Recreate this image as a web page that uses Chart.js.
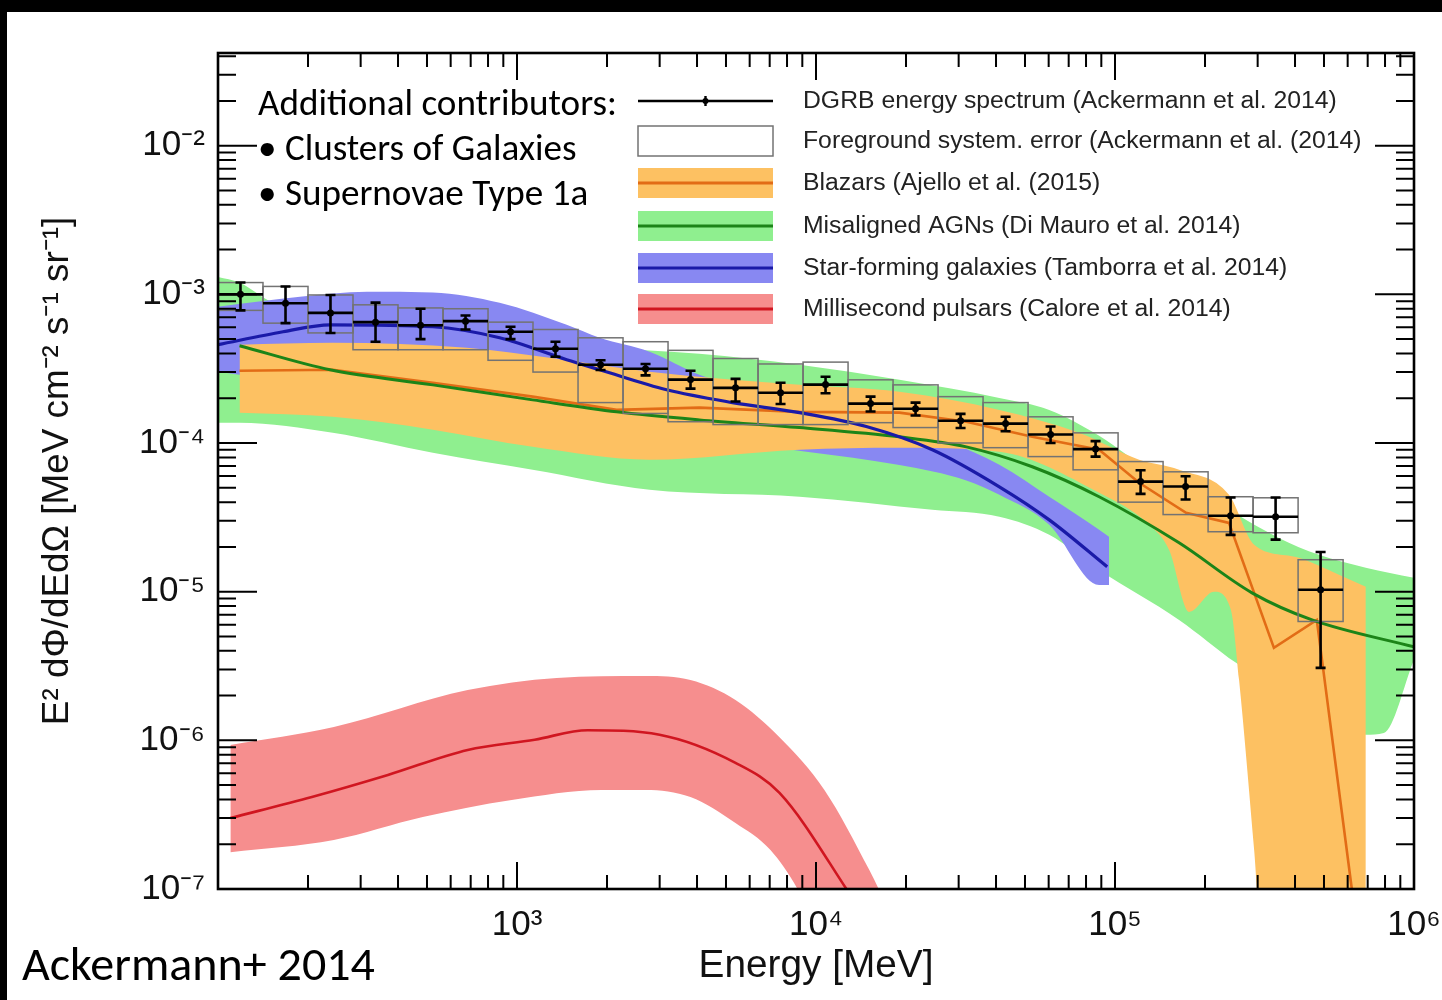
<!DOCTYPE html>
<html lang="en">
<head>
<meta charset="utf-8">
<title>Diffuse gamma-ray background: measured spectrum and source contributions</title>
<script src="https://cdn.jsdelivr.net/npm/chart.js@4.4.1/dist/chart.umd.min.js"></script>
<style>
  html, body { margin: 0; padding: 0; width: 1442px; height: 1000px; background: #000; overflow: hidden; }
  #panel { position: absolute; left: 7px; top: 12px; width: 1435px; height: 988px; background: #fff; }
  #chart { display: block; }
</style>
</head>
<body>
<div id="panel"><canvas id="chart" width="1435" height="988"></canvas></div>
<script>
// ---------------- DGRB energy spectrum (Ackermann et al. 2014) ----------------
// Energy bins in MeV
const binLow    = [100, 141.4, 200, 282.8, 400, 565.7, 800, 1131, 1600, 2263, 3200, 4525, 6400, 9051, 12800, 18102, 25600, 36204, 51200, 72408, 102400, 144815, 204800, 289631, 409600];
const binHigh   = [141.4, 200, 282.8, 400, 565.7, 800, 1131, 1600, 2263, 3200, 4525, 6400, 9051, 12800, 18102, 25600, 36204, 51200, 72408, 102400, 144815, 204800, 289631, 409600, 579262];
const binCenter = [118.9, 168.2, 237.8, 336.4, 475.7, 672.7, 951.4, 1345, 1903, 2691, 3805, 5382, 7611, 10763, 15222, 21527, 30444, 43054, 60887, 86108, 121775, 172215, 243549, 344429, 487099];
// E^2 dPhi/dE dOmega  [MeV cm^-2 s^-1 sr^-1]
const dgrb        = [1.00e-3, 8.7e-4, 7.5e-4, 6.5e-4, 6.2e-4, 6.6e-4, 5.6e-4, 4.3e-4, 3.36e-4, 3.16e-4, 2.67e-4, 2.35e-4, 2.18e-4, 2.47e-4, 1.84e-4, 1.70e-4, 1.41e-4, 1.35e-4, 1.14e-4, 9.1e-5, 5.5e-5, 5.1e-5, 3.24e-5, 3.19e-5, 1.03e-5];
const dgrbErrHigh = [1.20e-3, 1.13e-3, 9.9e-4, 8.8e-4, 8.0e-4, 7.2e-4, 6.05e-4, 4.8e-4, 3.6e-4, 3.4e-4, 3.06e-4, 2.7e-4, 2.54e-4, 2.79e-4, 2.05e-4, 1.87e-4, 1.57e-4, 1.50e-4, 1.29e-4, 1.03e-4, 6.55e-5, 5.98e-5, 4.3e-5, 4.3e-5, 1.85e-5];
const dgrbErrLow  = [7.8e-4, 6.4e-4, 5.5e-4, 4.8e-4, 5.0e-4, 5.8e-4, 5.0e-4, 3.8e-4, 3.1e-4, 2.85e-4, 2.32e-4, 1.9e-4, 1.83e-4, 2.16e-4, 1.63e-4, 1.53e-4, 1.26e-4, 1.20e-4, 1.00e-4, 8.1e-5, 4.55e-5, 4.17e-5, 2.41e-5, 2.24e-5, 3.07e-6];
// Foreground model systematic range per bin
const fgHigh = [1.20e-3, 1.13e-3, 9.9e-4, 8.5e-4, 8.1e-4, 8.0e-4, 6.5e-4, 5.8e-4, 5.1e-4, 4.8e-4, 4.2e-4, 3.7e-4, 3.4e-4, 3.5e-4, 2.66e-4, 2.46e-4, 2.05e-4, 1.87e-4, 1.50e-4, 1.17e-4, 7.5e-5, 6.4e-5, 4.35e-5, 4.28e-5, 1.64e-5];
const fgLow  = [7.8e-4, 6.4e-4, 5.5e-4, 4.24e-4, 4.24e-4, 4.24e-4, 3.6e-4, 3.0e-4, 1.87e-4, 1.58e-4, 1.39e-4, 1.33e-4, 1.33e-4, 1.33e-4, 1.37e-4, 1.27e-4, 1.00e-4, 9.3e-5, 8.1e-5, 6.6e-5, 4.0e-5, 3.3e-5, 2.53e-5, 2.49e-5, 6.3e-6];

// ---------------- Blazars (Ajello et al. 2015) ----------------
const blzUpperE = [118, 242, 679, 1285, 2775, 8810, 19010, 41040, 75880, 120400, 163800, 240500, 292000, 403000, 561000, 690000];
const blzUpper  = [4.58e-4, 4.72e-4, 4.37e-4, 3.74e-4, 3.01e-4, 2.46e-4, 2.21e-4, 1.67e-4, 1.17e-4, 7.71e-5, 6.61e-5, 4.48e-5, 2.07e-5, 1.71e-5, 1.30e-5, 1.08e-5];
const blzLowerE = [118, 242, 523, 1128, 2775, 8810, 19010, 41040, 88490, 130100, 151700, 177000, 214400, 244000, 260000, 292000, 308000, 690000];
const blzLower  = [1.60e-4, 1.50e-4, 1.23e-4, 9.42e-5, 7.71e-5, 9.0e-5, 9.29e-5, 8.73e-5, 4.62e-5, 2.82e-5, 1.91e-5, 7.31e-6, 9.97e-6, 7.55e-6, 2.55e-6, 1.83e-7, 5e-8, 5e-8];
const blzLineE  = [118, 242, 523, 1128, 2153, 4074, 8810, 19010, 31830, 52890, 88490, 120400, 172900, 240500, 340000, 473000, 639000];
const blzLine   = [3.06e-4, 3.11e-4, 2.54e-4, 2.05e-4, 1.67e-4, 1.73e-4, 1.62e-4, 1.60e-4, 1.39e-4, 1.10e-4, 9.0e-5, 5.40e-5, 3.39e-5, 2.90e-5, 4.19e-6, 6.46e-6, 6.2e-8];

// ---------------- Misaligned AGNs (Di Mauro et al. 2014) ----------------
const agnUpperE = [100, 118, 146, 188, 406, 875, 1890, 4074, 8810, 19010, 41040, 60260, 88490, 130100, 191000, 281000, 353000, 481000, 690000, 1000000];
const agnUpper  = [1.31e-3, 1.20e-3, 9.2e-4, 7.29e-4, 5.78e-4, 4.95e-4, 4.37e-4, 3.98e-4, 3.36e-4, 2.66e-4, 2.01e-4, 1.67e-4, 1.12e-4, 6.6e-5, 4.7e-5, 2.95e-5, 2.30e-5, 1.77e-5, 1.45e-5, 1.24e-5];
const agnLowerE = [100, 118, 242, 523, 1128, 2775, 8810, 24500, 41040, 60260, 88490, 163800, 254000, 353000, 561000, 690000, 793000, 1000000];
const agnLower  = [1.37e-4, 1.37e-4, 1.17e-4, 8.59e-5, 6.61e-5, 4.84e-5, 4.35e-5, 3.55e-5, 3.19e-5, 2.41e-5, 1.40e-5, 6.46e-6, 3.32e-6, 2.18e-6, 1.48e-6, 1.09e-6, 1.12e-6, 3.48e-6];
const agnLineE  = [118, 237, 523, 1128, 2153, 4074, 8810, 19010, 31830, 52890, 88490, 163800, 287200, 456000, 1000000];
const agnLine   = [4.51e-4, 3.11e-4, 2.46e-4, 1.95e-4, 1.62e-4, 1.43e-4, 1.27e-4, 1.10e-4, 9.42e-5, 6.92e-5, 4.35e-5, 2.13e-5, 9.82e-6, 6.46e-6, 4.25e-6];

// ---------------- Star-forming galaxies (Tamborra et al. 2014) ----------------
const sfgUpperE = [100, 188, 315, 523, 875, 1466, 1890, 2775, 4074, 5990, 8810, 12940, 19010, 27920, 41040, 60260, 88490, 95500];
const sfgUpper  = [8.26e-4, 9.63e-4, 1.04e-3, 1.03e-3, 8.77e-4, 6.24e-4, 5.10e-4, 4.11e-4, 2.88e-4, 2.28e-4, 1.95e-4, 1.62e-4, 1.33e-4, 1.02e-4, 7.13e-5, 4.35e-5, 2.61e-5, 2.34e-5];
const sfgLowerE = [100, 118, 406, 1890, 9294, 19010, 31830, 41040, 60260, 88490, 95500];
const sfgLower  = [3.01e-4, 2.88e-4, 2.11e-4, 1.33e-4, 8.73e-5, 7.1e-5, 5.6e-5, 4.48e-5, 2.82e-5, 1.11e-5, 1.11e-5];
const sfgLineE  = [100, 165, 237, 523, 875, 1466, 1890, 3164, 5257, 8810, 14730, 24500, 41040, 60260, 94150];
const sfgLine   = [4.58e-4, 5.60e-4, 6.24e-4, 6.05e-4, 5.10e-4, 3.63e-4, 3.11e-4, 2.28e-4, 1.87e-4, 1.60e-4, 1.29e-4, 9.0e-5, 5.07e-5, 3.04e-5, 1.47e-5];

// ---------------- Millisecond pulsars (Calore et al. 2014) ----------------
const mspUpperE = [110, 244, 684, 1358, 2690, 3803, 5379, 7550, 10670, 15080, 16900];
const mspUpper  = [9.31e-7, 1.23e-6, 2.18e-6, 2.63e-6, 2.71e-6, 2.55e-6, 1.87e-6, 1.05e-6, 4.64e-7, 1.34e-7, 8.4e-8];
const mspLowerE = [110, 244, 484, 960, 1918, 2690, 3803, 5379, 7042, 8672, 9510, 12000, 16900];
const mspLower  = [1.77e-7, 2.14e-7, 3.05e-7, 3.97e-7, 4.64e-7, 4.64e-7, 4.16e-7, 2.78e-7, 1.83e-7, 1.0e-7, 6.7e-8, 3e-8, 2e-8];
const mspLineE  = [110, 206, 370, 684, 1146, 1723, 2998, 5379, 7550, 12640, 14000];
const mspLine   = [3.0e-7, 4.16e-7, 5.85e-7, 8.62e-7, 1.01e-6, 1.17e-6, 1.09e-6, 7.05e-7, 4.43e-7, 1.0e-7, 7.2e-8];

// ---------------- Axes ----------------
const xTickValues = [1e3, 1e4, 1e5, 1e6];
const xTickLabels = ['10\u00B3', '10\u2074', '10\u2075', '10\u2076'];
const yTickValues = [1e-7, 1e-6, 1e-5, 1e-4, 1e-3, 1e-2];
const yTickLabels = ['10\u207B\u2077', '10\u207B\u2076', '10\u207B\u2075', '10\u207B\u2074', '10\u207B\u00B3', '10\u207B\u00B2'];
const xTitle = 'Energy [MeV]';
const yTitle = 'E\u00B2 d\u03A6/dEd\u03A9 [MeV cm\u207B\u00B2 s\u207B\u00B9 sr\u207B\u00B9]';

// ---------------- Legend and notes ----------------
const legendLabels = [
  'DGRB energy spectrum (Ackermann et al. 2014)',
  'Foreground system. error (Ackermann et al. (2014)',
  'Blazars (Ajello et al. (2015)',
  'Misaligned AGNs (Di Mauro et al. 2014)',
  'Star-forming galaxies (Tamborra et al. 2014)',
  'Millisecond pulsars (Calore et al. 2014)'
];
const noteLines = ['Additional contributors:', '\u2022 Clusters of Galaxies', '\u2022 Supernovae Type 1a'];
const creditText = 'Ackermann+ 2014';

// ---------------- Styles ----------------
const BLZ_FILL = 'rgb(253, 193, 98)',  BLZ_LINE = 'rgb(226, 108, 22)';
const AGN_FILL = 'rgb(143, 239, 143)', AGN_LINE = 'rgb(28, 132, 24)';
const SFG_FILL = 'rgb(136, 136, 242)', SFG_LINE = 'rgb(26, 26, 168)';
const MSP_FILL = 'rgb(246, 142, 142)', MSP_LINE = 'rgb(208, 22, 32)';
const BOX_COLOR = 'rgb(115, 115, 115)';
const FONT_AXIS = "'Liberation Sans', Arial, Helvetica, sans-serif";
const FONT_NOTE = "Carlito, Lato, 'Open Sans', sans-serif";

function fitFont(text, family, targetWidth) {
  const c = document.createElement('canvas').getContext('2d');
  c.font = '100px ' + family;
  return 100 * targetWidth / c.measureText(text).width;
}
const tickSize   = fitFont('10', FONT_AXIS, 39);
const xTitleSize = fitFont(xTitle, FONT_AXIS, 235);
const yTitleSize = fitFont(yTitle, FONT_AXIS, 510);
const legendSize = fitFont(legendLabels[0], FONT_AXIS, 534);
const noteSize   = fitFont(noteLines[0], FONT_NOTE, 359);
const creditSize = fitFont(creditText, FONT_NOTE, 353);

const pts = (E, V) => E.map((e, i) => ({ x: e, y: V[i] }));
const curve = (E, V, color, width, smooth) => ({
  data: pts(E, V), borderColor: color, borderWidth: width, pointRadius: 0, fill: false,
  cubicInterpolationMode: smooth ? 'monotone' : 'default', tension: 0
});
const edge = (E, V, color, fill) => ({
  data: pts(E, V), borderColor: 'rgba(0,0,0,0)', borderWidth: 0, backgroundColor: color,
  pointRadius: 0, fill: fill, cubicInterpolationMode: 'monotone'
});

// first dataset is drawn on top
const datasets = [
  { data: pts(binCenter, dgrb), showLine: false, pointRadius: 3.5, pointBackgroundColor: '#000', pointBorderWidth: 0 },
  curve(sfgLineE, sfgLine, SFG_LINE, 3.2, true),
  curve(agnLineE, agnLine, AGN_LINE, 3, true),
  curve(blzLineE, blzLine, BLZ_LINE, 2.6, false),
  curve(mspLineE, mspLine, MSP_LINE, 2.6, true),
  edge(blzUpperE, blzUpper, BLZ_FILL, '+1'),
  edge(blzLowerE, blzLower, BLZ_FILL, false),
  edge(sfgUpperE, sfgUpper, SFG_FILL, '+1'),
  edge(sfgLowerE, sfgLower, SFG_FILL, false),
  edge(agnUpperE, agnUpper, AGN_FILL, '+1'),
  edge(agnLowerE, agnLower, AGN_FILL, false),
  edge(mspUpperE, mspUpper, MSP_FILL, '+1'),
  edge(mspLowerE, mspLower, MSP_FILL, false)
];

// Foreground boxes and DGRB error bars, placed through the chart scales
const dgrbBars = {
  id: 'dgrbBars',
  afterDatasetsDraw(chart) {
    const { ctx, chartArea: a, scales: { x, y } } = chart;
    ctx.save();
    ctx.beginPath();
    ctx.rect(a.left, a.top, a.right - a.left, a.bottom - a.top);
    ctx.clip();
    ctx.strokeStyle = BOX_COLOR;
    ctx.lineWidth = 1.5;
    for (let i = 0; i < binCenter.length; i++) {
      const x0 = x.getPixelForValue(binLow[i]), x1 = x.getPixelForValue(binHigh[i]);
      const y0 = y.getPixelForValue(fgHigh[i]), y1 = y.getPixelForValue(fgLow[i]);
      ctx.strokeRect(x0, y0, x1 - x0, y1 - y0);
    }
    ctx.strokeStyle = '#000';
    ctx.lineWidth = 2.6;
    ctx.beginPath();
    for (let i = 0; i < binCenter.length; i++) {
      const x0 = x.getPixelForValue(binLow[i]), x1 = x.getPixelForValue(binHigh[i]);
      const xc = x.getPixelForValue(binCenter[i]), yc = y.getPixelForValue(dgrb[i]);
      const yh = y.getPixelForValue(dgrbErrHigh[i]), yl = y.getPixelForValue(dgrbErrLow[i]);
      ctx.moveTo(x0, yc); ctx.lineTo(x1, yc);
      ctx.moveTo(xc, yh); ctx.lineTo(xc, yl);
      ctx.moveTo(xc - 5, yh); ctx.lineTo(xc + 5, yh);
      ctx.moveTo(xc - 5, yl); ctx.lineTo(xc + 5, yl);
    }
    ctx.stroke();
    ctx.restore();
  }
};

// Box frame with inward major/minor ticks on all four sides
const frame = {
  id: 'frame',
  afterDraw(chart) {
    const { ctx, chartArea: a, scales: { x, y } } = chart;
    const each = (scale, cb) => {
      const lo = Math.floor(Math.log10(scale.min)), hi = Math.ceil(Math.log10(scale.max));
      for (let d = lo; d <= hi; d++) {
        for (let m = 1; m <= 9; m++) {
          const v = m * Math.pow(10, d);
          if (v < scale.min * 0.999 || v > scale.max * 1.001) continue;
          cb(scale.getPixelForValue(v), m === 1);
        }
      }
    };
    ctx.save();
    ctx.strokeStyle = '#000';
    ctx.lineWidth = 2;
    ctx.beginPath();
    each(x, (px, major) => {
      const L = major ? 27 : 14;
      ctx.moveTo(px, a.bottom); ctx.lineTo(px, a.bottom - L);
      ctx.moveTo(px, a.top); ctx.lineTo(px, a.top + L);
    });
    each(y, (py, major) => {
      const L = major ? 39 : 18;
      ctx.moveTo(a.left, py); ctx.lineTo(a.left + L, py);
      ctx.moveTo(a.right, py); ctx.lineTo(a.right - L, py);
    });
    ctx.stroke();
    ctx.lineWidth = 2.6;
    ctx.strokeRect(a.left, a.top, a.right - a.left, a.bottom - a.top);
    ctx.restore();
  }
};

// Legend block and text notes
const annotations = {
  id: 'annotations',
  afterDraw(chart) {
    const { ctx } = chart;
    const sx0 = 631, sx1 = 766, tx = 796;
    const rows = [89, 129, 171, 214, 256, 297];
    const bands = [null, null, [BLZ_FILL, BLZ_LINE], [AGN_FILL, AGN_LINE], [SFG_FILL, SFG_LINE], [MSP_FILL, MSP_LINE]];
    ctx.save();
    ctx.strokeStyle = '#000';
    ctx.lineWidth = 2.4;
    ctx.beginPath();
    ctx.moveTo(sx0, rows[0]); ctx.lineTo(sx1, rows[0]);
    ctx.moveTo((sx0 + sx1) / 2, rows[0] - 5); ctx.lineTo((sx0 + sx1) / 2, rows[0] + 5);
    ctx.stroke();
    ctx.fillStyle = '#000';
    ctx.beginPath(); ctx.arc((sx0 + sx1) / 2, rows[0], 3, 0, Math.PI * 2); ctx.fill();
    ctx.strokeStyle = BOX_COLOR;
    ctx.lineWidth = 1.5;
    ctx.strokeRect(sx0, rows[1] - 15, sx1 - sx0, 30);
    for (let r = 2; r < 6; r++) {
      ctx.fillStyle = bands[r][0];
      ctx.fillRect(sx0, rows[r] - 15, sx1 - sx0, 30);
      ctx.strokeStyle = bands[r][1];
      ctx.lineWidth = 3;
      ctx.beginPath(); ctx.moveTo(sx0, rows[r]); ctx.lineTo(sx1, rows[r]); ctx.stroke();
    }
    ctx.fillStyle = '#222';
    ctx.font = legendSize.toFixed(2) + 'px ' + FONT_AXIS;
    ctx.textBaseline = 'middle';
    ctx.textAlign = 'left';
    legendLabels.forEach((t, i) => ctx.fillText(t, tx, rows[i]));
    ctx.fillStyle = '#000';
    ctx.textBaseline = 'alphabetic';
    ctx.font = noteSize.toFixed(2) + 'px ' + FONT_NOTE;
    ctx.fillText(noteLines[0], 251, 103);
    ctx.fillText(noteLines[1], 251, 148);
    ctx.fillText(noteLines[2], 251, 193);
    ctx.font = creditSize.toFixed(2) + 'px ' + FONT_NOTE;
    ctx.fillText(creditText, 15, 968);
    ctx.restore();
  }
};

new Chart(document.getElementById('chart'), {
  type: 'line',
  data: { datasets },
  options: {
    responsive: false,
    animation: false,
    events: [],
    layout: { padding: { left: 0, top: 41, right: 28, bottom: 0 } },
    plugins: { legend: { display: false }, tooltip: { enabled: false } },
    scales: {
      x: {
        type: 'logarithmic', position: 'bottom', min: 100, max: 1e6,
        grid: { display: false, drawTicks: false }, border: { display: false },
        afterBuildTicks: (s) => { s.ticks = xTickValues.map(v => ({ value: v })); },
        afterFit: (s) => { s.height = 111; s.paddingLeft = 0; s.paddingRight = 0; },
        ticks: {
          autoSkip: false, maxRotation: 0, minRotation: 0, padding: 15, color: '#111',
          font: { family: FONT_AXIS, size: tickSize },
          callback: (v, i) => xTickLabels[i]
        },
        title: { display: true, text: xTitle, color: '#111', font: { family: FONT_AXIS, size: xTitleSize }, padding: { top: 0, bottom: 10 } }
      },
      y: {
        type: 'logarithmic', position: 'left', min: 1e-7, max: 0.042,
        grid: { display: false, drawTicks: false }, border: { display: false },
        afterBuildTicks: (s) => { s.ticks = yTickValues.map(v => ({ value: v })); },
        afterFit: (s) => { s.width = 211; s.paddingTop = 0; s.paddingBottom = 0; },
        ticks: {
          autoSkip: false, padding: 13, color: '#111',
          font: { family: FONT_AXIS, size: tickSize },
          callback: (v, i) => yTickLabels[i]
        },
        title: { display: true, text: yTitle, color: '#111', font: { family: FONT_AXIS, size: yTitleSize }, padding: { top: 29, bottom: 0 } }
      }
    }
  },
  plugins: [dgrbBars, frame, annotations]
});
</script>
</body>
</html>
